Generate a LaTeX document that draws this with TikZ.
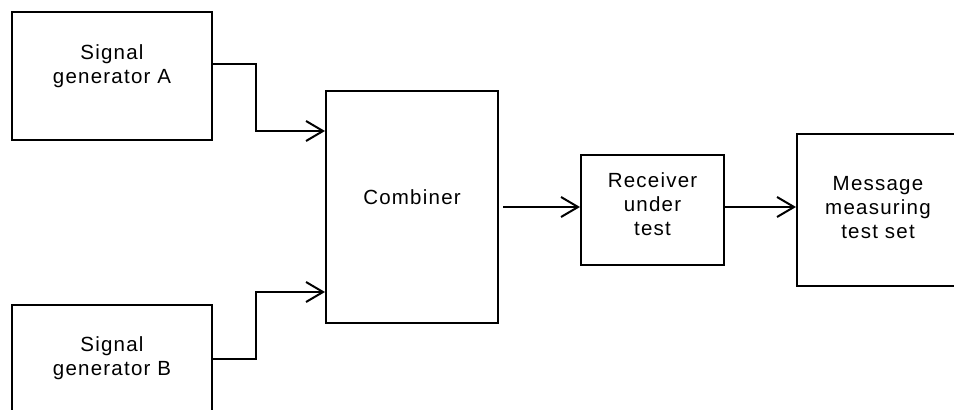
\documentclass[tikz,border=0pt]{standalone}
\usepackage{fontspec}
\setmainfont{Liberation Sans}[LetterSpace=6]
\usetikzlibrary{arrows.meta}
\tikzset{
  blok/.style={draw,line width=2pt,inner sep=0pt},
  tekst/.style={align=center,font=\fontsize{20.5}{24}\selectfont},
  pijl/.style={line width=2pt,-{Straight Barb[length=17pt,width=20pt]}}
}
\begin{document}
\begin{tikzpicture}[x=1pt,y=-1pt]
         \useasboundingbox (0,0) rectangle (954,410) ;
         \clip (0,0) rectangle (954,410) ;
         % generators
         \node[blok,minimum width=200pt,minimum height=128pt] (genA) at (112,76) {} ;
         \node[tekst] (genAtxt) at ([yshift=10pt]genA.center) {Signal\\generator A} ;
         \node[blok,minimum width=200pt,minimum height=128pt] (genB) at (112,369) {} ;
         \node[tekst] (genBtxt) at ([yshift=11pt]genB.center) {Signal\\generator B} ;
         % combiner, receiver, test set
         \node[blok,minimum width=172pt,minimum height=232pt] (comb) at (412,207) {} ;
         \node[tekst] (combtxt) at ([yshift=9.5pt]comb.center) {Combiner} ;
         \node[blok,minimum width=143pt,minimum height=110pt] (recv) at (652.5,210) {} ;
         \node[tekst] (recvtxt) at ([yshift=6pt]recv.center) {Receiver\\under\\test} ;
         \node[blok,minimum width=162pt,minimum height=152pt] (msg) at (878,210) {} ;
         \node[tekst] (msgtxt) at ([yshift=2pt]msg.center) {Message\\measuring\\test set} ;
         % connectors
         \draw[pijl] ([yshift=12pt]genA.east) -- ++(43,0) |- ([yshift=76pt]comb.west) ;
         \draw[pijl] ([yshift=10pt]genB.east) -- ++(43,0) |- ([yshift=-85pt]comb.west) ;
         \draw[pijl,shorten <=4pt] (comb.east) -- (recv.west |- comb.east) ;
         \draw[pijl] (recv.east |- comb.east) -- (msg.west |- comb.east) ;
\end{tikzpicture}
\end{document}
